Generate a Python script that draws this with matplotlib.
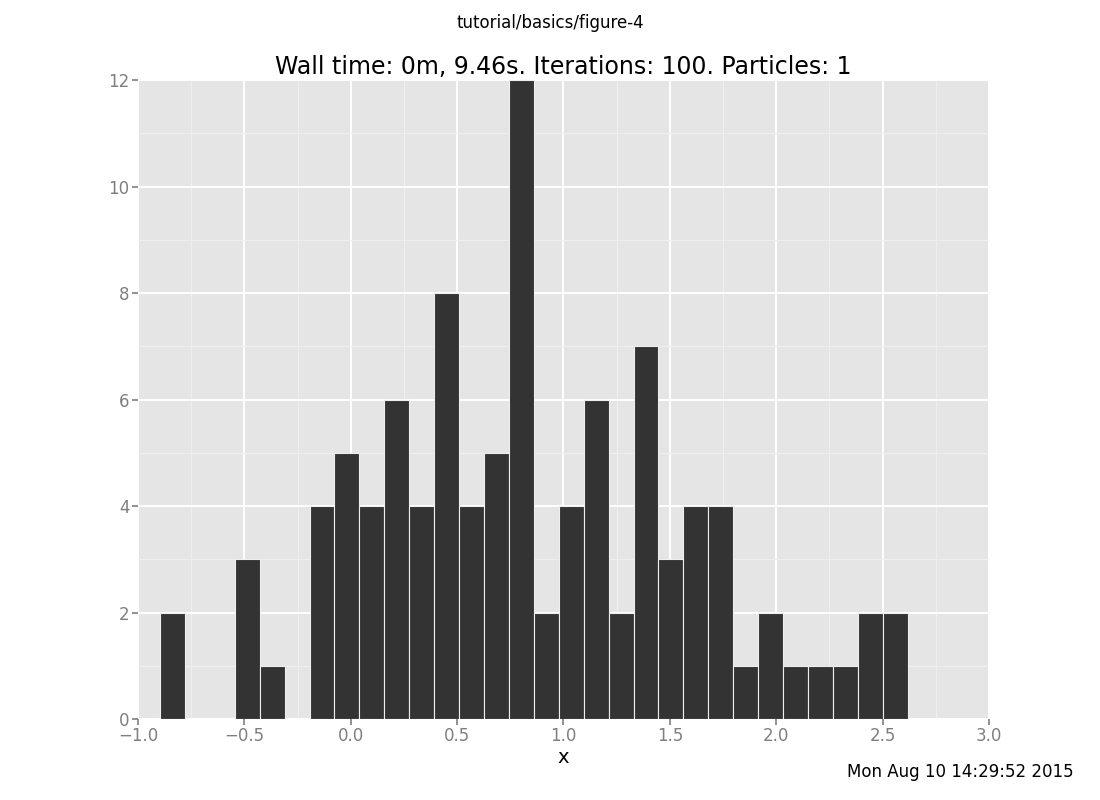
import numpy as np
import matplotlib
matplotlib.use("Agg")
import matplotlib.pyplot as plt
from matplotlib.ticker import MultipleLocator

counts = [2, 0, 0, 3, 1, 0, 4, 5, 4, 6, 4, 8, 4, 5, 12, 2, 4, 6, 2, 7, 3, 4, 4, 1, 2, 1, 1, 1, 2, 2]
bin_start = -0.8966
bin_end = 2.618
suptitle = "tutorial/basics/figure-4"
title = "Wall time: 0m, 9.46s. Iterations: 100. Particles: 1"
xlabel = "x"
stamp = "Mon Aug 10 14:29:52 2015"

edges = np.linspace(bin_start, bin_end, len(counts) + 1)
width = edges[1] - edges[0]

fig = plt.figure(figsize=(11, 8), dpi=100)
ax = fig.add_subplot(111)
ax.set_facecolor("#E5E5E5")
for s in ax.spines.values():
    s.set_visible(False)

ax.bar(edges[:-1], counts, width=width, align="edge", color="#333333",
       edgecolor="#EEEEEE", linewidth=0.8, zorder=3)

ax.set_xlim(-1, 3)
ax.set_ylim(0, 12)
ax.xaxis.set_major_locator(MultipleLocator(0.5))
ax.xaxis.set_minor_locator(MultipleLocator(0.25))
ax.yaxis.set_major_locator(MultipleLocator(2))
ax.yaxis.set_minor_locator(MultipleLocator(1))
ax.grid(which="major", color="white", linewidth=1.4, zorder=1)
ax.grid(which="minor", color="#EFEFEF", linewidth=0.8, zorder=1)
ax.set_axisbelow(True)
ax.tick_params(which="major", direction="out", color="#7F7F7F", labelcolor="#7F7F7F",
               labelsize=12, length=4.5, width=1.2, pad=1.5)
ax.tick_params(which="minor", length=0)

ax.set_xlabel(xlabel, fontsize=14, labelpad=2)
ax.set_title(title, fontsize=17, pad=4)
fig.suptitle(suptitle, fontsize=12, y=0.982)
fig.text(0.976, 0.035, stamp, ha="right", va="center", fontsize=12)

fig.subplots_adjust(left=0.1255, right=0.899, bottom=0.10125, top=0.9)
fig.savefig("out.png", dpi=100)
